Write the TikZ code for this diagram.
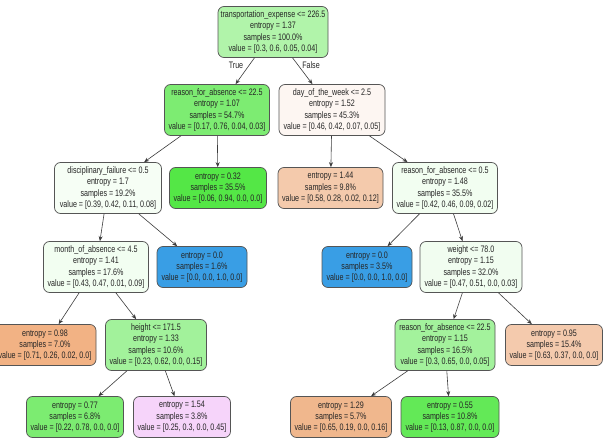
\documentclass[tikz,border=0pt]{standalone}
\usepackage{fontspec}
\setmainfont[FakeStretch=0.76]{Liberation Sans}
\usetikzlibrary{arrows.meta}
\definecolor{bordercol}{RGB}{85,85,85}
\definecolor{edgecol}{RGB}{60,60,60}
\definecolor{croot}{RGB}{177,244,170}
\definecolor{cA}{RGB}{125,236,114}
\definecolor{cB}{RGB}{253,246,242}
\definecolor{cC}{RGB}{246,254,245}
\definecolor{cD}{RGB}{84,231,70}
\definecolor{cE}{RGB}{244,202,172}
\definecolor{cF}{RGB}{242,254,241}
\definecolor{cG}{RGB}{242,254,241}
\definecolor{cblue}{RGB}{57,158,229}
\definecolor{cH}{RGB}{241,253,240}
\definecolor{cI}{RGB}{242,178,132}
\definecolor{cJ}{RGB}{162,242,155}
\definecolor{cK}{RGB}{163,242,156}
\definecolor{cL}{RGB}{244,202,173}
\definecolor{cM}{RGB}{124,236,113}
\definecolor{cN}{RGB}{246,212,250}
\definecolor{cO}{RGB}{240,183,141}
\definecolor{cP}{RGB}{99,233,87}
\begin{document}
\begin{tikzpicture}[x=1pt,y=-1pt,
  tn/.style={draw=bordercol, line width=0.7pt, rounded corners=6pt, align=center,
    inner xsep=1pt, inner ysep=1pt, text=black!85,
    font=\fontsize{9.4}{11.3}\selectfont},
  inner/.style={tn, minimum height=51pt},
  leaf/.style={tn, minimum height=41pt},
  edge/.style={draw=edgecol, line width=0.6pt, -{Stealth[length=5pt,width=4pt]}},
  lab/.style={font=\fontsize{9.4}{11.3}\selectfont, text=black!85}
]
\useasboundingbox (0,0) rectangle (606,441);
\fill[white] (0,0) rectangle (606,441);

\node[inner, fill=croot, minimum width=110pt] (root) at (273,32)
  {transportation\_expense <= 226.5\\entropy = 1.37\\samples = 100.0\%\\value = [0.3, 0.6, 0.05, 0.04]};
\node[inner, fill=cA, minimum width=105pt] (n1) at (217,110)
  {reason\_for\_absence <= 22.5\\entropy = 1.07\\samples = 54.7\%\\value = [0.17, 0.76, 0.04, 0.03]};
\node[inner, fill=cB, minimum width=106pt] (n2) at (332,110)
  {day\_of\_the\_week <= 2.5\\entropy = 1.52\\samples = 45.3\%\\value = [0.46, 0.42, 0.07, 0.05]};
\node[inner, fill=cC, minimum width=107pt] (n3) at (108,188)
  {disciplinary\_failure <= 0.5\\entropy = 1.7\\samples = 19.2\%\\value = [0.39, 0.42, 0.11, 0.08]};
\node[leaf, fill=cD, minimum width=97pt] (n4) at (218,188)
  {entropy = 0.32\\samples = 35.5\%\\value = [0.06, 0.94, 0.0, 0.0]};
\node[leaf, fill=cE, minimum width=105pt] (n5) at (330.5,188)
  {entropy = 1.44\\samples = 9.8\%\\value = [0.58, 0.28, 0.02, 0.12]};
\node[inner, fill=cF, minimum width=105pt] (n6) at (445,188)
  {reason\_for\_absence <= 0.5\\entropy = 1.48\\samples = 35.5\%\\value = [0.42, 0.46, 0.09, 0.02]};
\node[inner, fill=cG, minimum width=105pt] (n7) at (96,267)
  {month\_of\_absence <= 4.5\\entropy = 1.41\\samples = 17.6\%\\value = [0.43, 0.47, 0.01, 0.09]};
\node[leaf, fill=cblue, minimum width=90pt] (n8) at (202,267)
  {entropy = 0.0\\samples = 1.6\%\\value = [0.0, 0.0, 1.0, 0.0]};
\node[leaf, fill=cblue, minimum width=90pt] (n9) at (367,267)
  {entropy = 0.0\\samples = 3.5\%\\value = [0.0, 0.0, 1.0, 0.0]};
\node[inner, fill=cH, minimum width=102pt] (n10) at (471,267)
  {weight <= 78.0\\entropy = 1.15\\samples = 32.0\%\\value = [0.47, 0.51, 0.0, 0.03]};
\node[leaf, fill=cI, minimum width=102pt] (n11) at (45,345)
  {entropy = 0.98\\samples = 7.0\%\\value = [0.71, 0.26, 0.02, 0.0]};
\node[inner, fill=cJ, minimum width=101pt] (n12) at (156,345)
  {height <= 171.5\\entropy = 1.33\\samples = 10.6\%\\value = [0.23, 0.62, 0.0, 0.15]};
\node[inner, fill=cK, minimum width=100pt] (n13) at (445,345)
  {reason\_for\_absence <= 22.5\\entropy = 1.15\\samples = 16.5\%\\value = [0.3, 0.65, 0.0, 0.05]};
\node[leaf, fill=cL, minimum width=97pt] (n14) at (554,345)
  {entropy = 0.95\\samples = 15.4\%\\value = [0.63, 0.37, 0.0, 0.0]};
\node[leaf, fill=cM, minimum width=97pt] (n15) at (75,417)
  {entropy = 0.77\\samples = 6.8\%\\value = [0.22, 0.78, 0.0, 0.0]};
\node[leaf, fill=cN, minimum width=97pt] (n16) at (182,417)
  {entropy = 1.54\\samples = 3.8\%\\value = [0.25, 0.3, 0.0, 0.45]};
\node[leaf, fill=cO, minimum width=101pt] (n17) at (341,417)
  {entropy = 1.29\\samples = 5.7\%\\value = [0.65, 0.19, 0.0, 0.16]};
\node[leaf, fill=cP, minimum width=98pt] (n18) at (450,417)
  {entropy = 0.55\\samples = 10.8\%\\value = [0.13, 0.87, 0.0, 0.0]};

\path[edge] (root) -- (n1);
\path[edge] (root) -- (n2);
\path[edge] (n1) -- (n3);
\path[edge] (n1) -- (n4);
\path[edge] (n2) -- (n5);
\path[edge] (n2) -- (n6);
\path[edge] (n3) -- (n7);
\path[edge] (n3) -- (n8);
\path[edge] (n6) -- (n9);
\path[edge] (n6) -- (n10);
\path[edge] (n7) -- (n11);
\path[edge] (n7) -- (n12);
\path[edge] (n10) -- (n13);
\path[edge] (n10) -- (n14);
\path[edge] (n12) -- (n15);
\path[edge] (n12) -- (n16);
\path[edge] (n13) -- (n17);
\path[edge] (n13) -- (n18);

\node[lab] (ltrue) at (236,65) {True};
\node[lab] (lfalse) at (311,65) {False};
\end{tikzpicture}
\end{document}
